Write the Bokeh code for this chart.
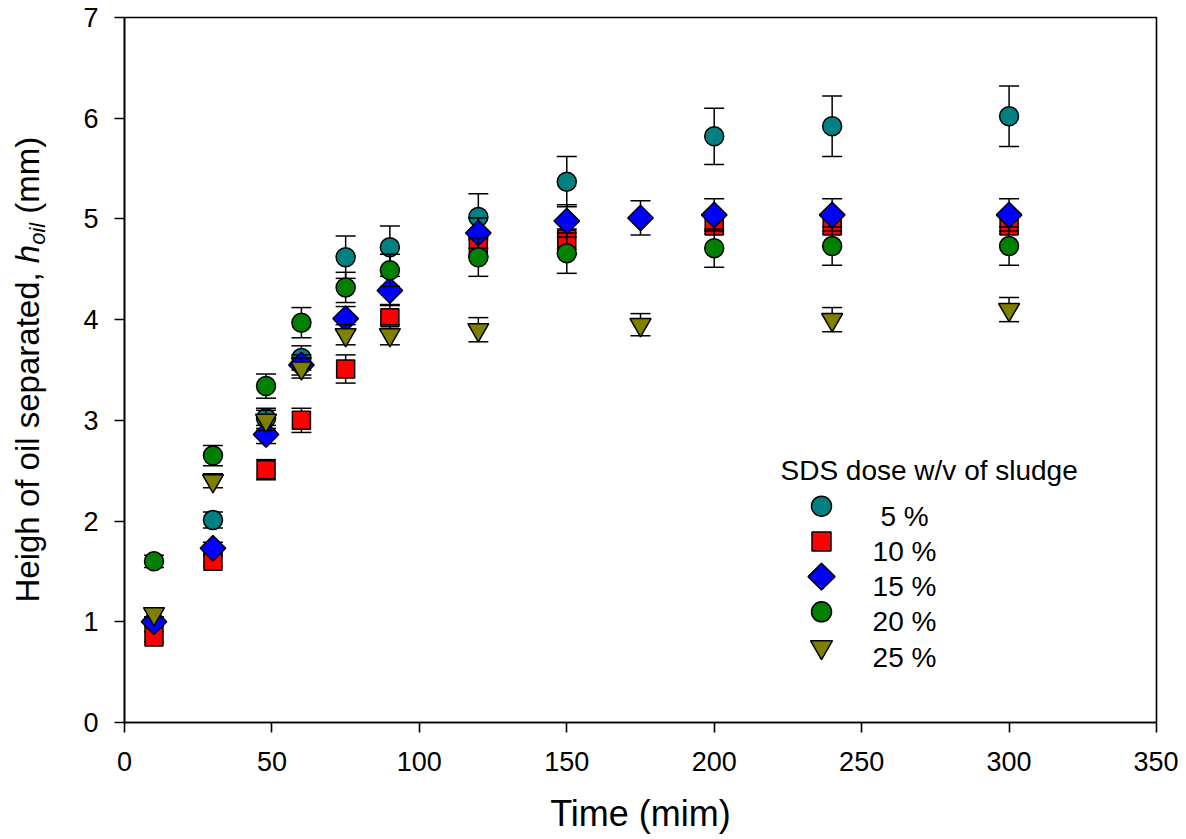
import math
from bokeh.plotting import figure
from bokeh.layouts import row
from bokeh.models import ColumnDataSource, Label, SingleIntervalTicker, Range1d
from bokeh.embed import file_html
from bokeh.resources import INLINE

# ---------------- data ----------------
series_labels = ["5 %", "10 %", "15 %", "20 %", "25 %"]
legend_title = "SDS dose w/v of sludge"
x_title = "Time (mim)"

t_5 = [10, 30, 48, 60, 75, 90, 120, 150, 200, 240, 300]
h_5 = [1.00, 2.01, 3.02, 3.62, 4.62, 4.72, 5.02, 5.37, 5.82, 5.92, 6.02]
e_5 = [0.05, 0.08, 0.10, 0.12, 0.21, 0.21, 0.23, 0.25, 0.28, 0.30, 0.30]

t_10 = [10, 30, 48, 60, 75, 90, 120, 150, 200, 240, 300]
h_10 = [0.85, 1.60, 2.51, 3.00, 3.51, 4.02, 4.72, 4.80, 4.93, 4.93, 4.93]
e_10 = [0.05, 0.05, 0.10, 0.12, 0.14, 0.12, 0.10, 0.10, 0.08, 0.08, 0.08]

t_15 = [10, 30, 48, 60, 75, 90, 120, 150, 175, 200, 240, 300]
h_15 = [1.00, 1.73, 2.86, 3.55, 4.01, 4.29, 4.86, 4.98, 5.01, 5.04, 5.04, 5.04]
e_15 = [0.04, 0.06, 0.09, 0.10, 0.12, 0.14, 0.15, 0.16, 0.17, 0.16, 0.16, 0.16]

t_20 = [10, 30, 48, 60, 75, 90, 120, 150, 200, 240, 300]
h_20 = [1.60, 2.65, 3.34, 3.97, 4.32, 4.49, 4.62, 4.66, 4.71, 4.73, 4.73]
e_20 = [0.06, 0.10, 0.12, 0.15, 0.15, 0.16, 0.19, 0.20, 0.19, 0.19, 0.19]

t_25 = [10, 30, 48, 60, 75, 90, 120, 175, 240, 300]
h_25 = [1.08, 2.40, 3.00, 3.52, 3.85, 3.85, 3.90, 3.95, 4.00, 4.10]
e_25 = [0.04, 0.07, 0.10, 0.10, 0.10, 0.10, 0.12, 0.11, 0.12, 0.12]

x_lim = (0, 350)
y_lim = (0, 7)
x_ticks_step = 50
y_ticks_step = 1

# ---------------- layout / styles ----------------
FONT = "Liberation Sans"
W, H = 1178, 837
LW = 64                                       # width of the strip holding the y title
FL, FR, FT, FB = 124, 1156, 17, 722          # frame edges in page pixels

styles = [
    dict(marker="circle", color="#008080", size=19, angle=0.0),
    dict(marker="square", color="#FF0000", size=18, angle=0.0),
    dict(marker="square", color="#0000FF", size=18, angle=math.pi / 4),
    dict(marker="circle", color="#008000", size=19, angle=0.0),
    dict(marker="inverted_triangle", color="#808000", size=21, angle=0.0),
]
series = [(t_5, h_5, e_5), (t_10, h_10, e_10), (t_15, h_15, e_15),
          (t_20, h_20, e_20), (t_25, h_25, e_25)]

y_rng = Range1d(*y_lim)
p = figure(width=W - LW, height=H, output_backend="svg", toolbar_location=None,
           x_range=Range1d(*x_lim), y_range=y_rng,
           min_border_left=FL - LW, min_border_right=W - FR,
           min_border_top=FT, min_border_bottom=H - FB)
p.grid.visible = False
p.outline_line_color = "black"
p.outline_line_width = 1.6
p.background_fill_color = "white"
p.border_fill_color = "white"

for ax in (p.xaxis[0], p.yaxis[0]):
    ax.axis_line_width = 1.6
    ax.major_tick_line_width = 1.6
    ax.major_tick_out = 10
    ax.major_tick_in = 0
    ax.minor_tick_out = 0
    ax.minor_tick_in = 0
    ax.major_label_text_font = FONT
    ax.major_label_text_font_size = "27px"
    ax.major_label_text_color = "black"
    ax.axis_label_text_font = FONT
    ax.axis_label_text_font_style = "normal"
    ax.axis_label_text_color = "black"

p.xaxis.ticker = SingleIntervalTicker(interval=x_ticks_step, num_minor_ticks=0)
p.yaxis.ticker = SingleIntervalTicker(interval=y_ticks_step, num_minor_ticks=0)
p.xaxis.axis_label = x_title
p.xaxis.axis_label_text_font_size = "36px"
p.xaxis.major_label_standoff = 19
p.xaxis.axis_label_standoff = 19
p.yaxis.major_label_standoff = 16


def px_to_x(px):
    return x_lim[0] + (px - FL) / (FR - FL) * (x_lim[1] - x_lim[0])


def py_to_y(py):
    return y_lim[0] + (FB - py) / (FB - FT) * (y_lim[1] - y_lim[0])


for (tt, hh, ee), st in zip(series, styles):
    src = ColumnDataSource(dict(
        t=tt, h=hh,
        lo=[a - b for a, b in zip(hh, ee)],
        hi=[a + b for a, b in zip(hh, ee)]))
    p.segment(x0="t", y0="lo", x1="t", y1="hi", source=src,
              line_color="black", line_width=1.5)
    p.scatter(x="t", y="lo", source=src, marker="dash", size=20,
              line_color="black", line_width=1.5)
    p.scatter(x="t", y="hi", source=src, marker="dash", size=20,
              line_color="black", line_width=1.5)
    p.scatter(x="t", y="h", source=src, marker=st["marker"], size=st["size"],
              angle=st["angle"], fill_color=st["color"], line_color="black",
              line_width=1.5)

# ---------------- legend (keys + texts) ----------------
LEG_KEY_X = 821
LEG_LABEL_CX = 904
LEG_ROW0 = 505.7
LEG_PITCH = 35.2
LEG_TITLE_X = 780
LEG_TITLE_BASE = 470
LEG_FS = 28

p.add_layout(Label(x=x_lim[0], y=y_lim[0], x_offset=LEG_TITLE_X - FL,
                   y_offset=FB - LEG_TITLE_BASE, text=legend_title,
                   text_font=FONT, text_font_size=f"{LEG_FS}px",
                   text_align="left", text_baseline="alphabetic",
                   text_color="black"))
for k, (lab, st) in enumerate(zip(series_labels, styles)):
    cy = LEG_ROW0 + k * LEG_PITCH
    p.scatter(x=[px_to_x(LEG_KEY_X)], y=[py_to_y(cy)], marker=st["marker"],
              size=st["size"] + 1, angle=st["angle"], fill_color=st["color"],
              line_color="black", line_width=1.5)
    p.add_layout(Label(x=x_lim[0], y=y_lim[0], x_offset=LEG_LABEL_CX - FL,
                       y_offset=FB - (cy + 10), text=lab,
                       text_font=FONT, text_font_size=f"{LEG_FS}px",
                       text_align="center", text_baseline="alphabetic",
                       text_color="black"))

# ---------------- rotated y-axis title (with subscript) in a side strip ----------------
# the strip shares the main y range, so its frame is aligned with the main frame
side = figure(width=LW, height=H, output_backend="svg", toolbar_location=None,
              x_range=Range1d(0, LW), y_range=y_rng,
              min_border_left=0, min_border_right=0,
              min_border_top=FT, min_border_bottom=H - FB,
              x_axis_location=None, y_axis_location=None)
side.grid.visible = False
side.outline_line_color = None
side.background_fill_color = "white"
side.border_fill_color = "white"

AW = {" ": 278, ",": 278, "(": 333, ")": 333, "a": 556, "d": 556, "e": 556,
      "f": 278, "g": 556, "h": 556, "i": 222, "l": 222, "m": 833, "o": 556,
      "p": 556, "r": 333, "s": 500, "t": 278, "H": 722}


def tw(s, size):
    return sum(AW.get(c, 556) for c in s) * size / 1000.0


YF = 33
SUBF = 22
MID_PX = 26.5           # page x of the middle of the rotated main text
SUB_MID_PX = 36.5       # page x of the middle of the subscript
START_PY = 602          # page y where the title starts (bottom end)
# (text drawn, advance text, size, style, x middle)
parts = [("Heigh of oil separated,", "Heigh of oil separated, ", YF, "normal", MID_PX),
         ("h", "h", YF, "italic", MID_PX),
         ("oil", "oil ", SUBF, "italic", SUB_MID_PX),
         ("(mm)", "(mm)", YF, "normal", MID_PX)]
py = START_PY
for txt, adv, fs, style, xm in parts:
    side.add_layout(Label(x=xm, y=py_to_y(py), text=txt,
                          angle=math.pi / 2, text_font=FONT,
                          text_font_size=f"{fs}px", text_font_style=style,
                          text_align="left", text_baseline="middle",
                          text_color="black"))
    if adv.endswith(" ") and fs != YF:
        py -= tw(adv[:-1], fs) + tw(" ", YF)
    else:
        py -= tw(adv, fs)

layout = row(side, p, spacing=0)
open("out.html", "w").write(file_html(layout, INLINE))
